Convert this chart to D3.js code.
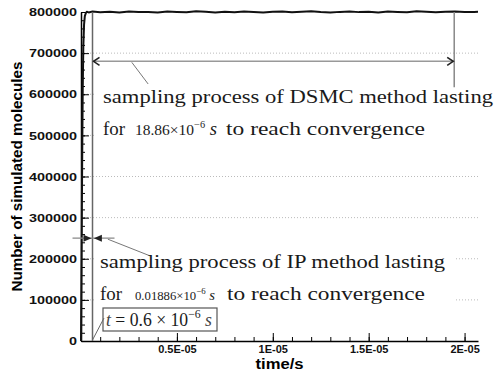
<!DOCTYPE html>
<html>
<head>
<meta charset="utf-8">
<script src="https://cdn.jsdelivr.net/npm/d3@7"></script>
<style>
body { margin: 0; background: #fff; }
svg { display: block; }
.axis text { font-family: "Liberation Sans", Arial, sans-serif; font-weight: bold; fill: #111; }
.ann { font-family: "Liberation Serif", "Times New Roman", serif; fill: #1a1a1a; }
</style>
</head>
<body>
<svg id="chart" width="495" height="371"></svg>
<script>
var c_width = 495;
var c_height = 371;

// Plot box
var c_left = 81;
var c_right = 478;
var c_top = 12;
var c_bot = 341;

// Data: time in microseconds, number of simulated molecules
var time_us = [0, 0.03, 0.06, 0.09, 0.12, 0.16, 0.2, 0.25, 0.3, 0.4, 0.6,
    1.0, 1.5, 2.0, 2.5, 3.0, 3.5, 4.0, 4.5, 5.0, 5.5, 6.0, 6.5, 7.0, 7.5, 8.0,
    8.5, 9.0, 9.5, 10.0, 10.5, 11.0, 11.5, 12.0, 12.5, 13.0, 13.5, 14.0, 14.5,
    15.0, 15.5, 16.0, 16.5, 17.0, 17.5, 18.0, 18.5, 19.0, 19.5, 20.0, 20.5, 20.7];
var molecules = [0, 200000, 430000, 610000, 715000, 770000, 790000, 797000, 800500, 799000, 801000,
    799500, 800800, 798600, 801500, 799800, 800200, 798900, 801200, 800000, 799200, 801800,
    800400, 798800, 800900, 799600, 801300, 800100, 798700, 800600, 801000, 799300, 800700,
    802000, 799900, 798500, 800300, 801400, 799700, 800800, 798900, 801100, 800000, 799400,
    801600, 800500, 799100, 800900, 801200, 799800, 800300, 800600];

// Axes
var y_ticks = [0, 100000, 200000, 300000, 400000, 500000, 600000, 700000, 800000];
var grid_values = [100000, 200000, 300000, 400000, 500000, 600000, 700000];
var x_ticks = [0.5e-5, 1e-5, 1.5e-5, 2e-5];
var x_tick_labels = ["0.5E-05", "1E-05", "1.5E-05", "2E-05"];

// Annotation values
var t_start = 0.6e-6;
var dsmc_lasting = 18.86e-6;
var ip_lasting = 0.01886e-6;
var dsmc_arrow_level = 680000;
var ip_arrow_level = 250000;

var svg = d3.select("#chart");

var x_scale = d3.scaleLinear().domain([0, 2.07e-5]).range([c_left, c_right]);
var y_scale = d3.scaleLinear().domain([0, 800000]).range([c_bot, c_top]);

// Grid lines
svg.append("g")
    .selectAll("line")
    .data(grid_values)
    .enter()
    .append("line")
    .attr("x1", c_left)
    .attr("x2", c_right)
    .attr("y1", d => y_scale(d))
    .attr("y2", d => y_scale(d))
    .attr("stroke", "#bbb")
    .attr("stroke-dasharray", "1,2");

// White backgrounds behind the annotation text
svg.append("rect").attr("x", 96).attr("y", 86).attr("width", 399).attr("height", 56).attr("fill", "#fff");
svg.append("rect").attr("x", 96).attr("y", 249).attr("width", 360).attr("height", 56).attr("fill", "#fff");

// Minor ticks
svg.append("g")
    .attr("transform", "translate(0," + c_bot + ")")
    .call(d3.axisBottom(x_scale).tickValues(x_scale.ticks(20)).tickSize(-4).tickFormat(""))
    .call(g => g.select(".domain").remove());
svg.append("g")
    .attr("transform", "translate(" + c_left + ",0)")
    .call(d3.axisLeft(y_scale).tickValues(y_scale.ticks(40)).tickSize(-4).tickFormat(""))
    .call(g => g.select(".domain").remove());

// Major axes
var x_axis = svg.append("g")
    .attr("class", "axis")
    .attr("transform", "translate(0," + c_bot + ")")
    .call(d3.axisBottom(x_scale)
        .tickValues(x_ticks)
        .tickSize(-8)
        .tickPadding(4)
        .tickSizeOuter(0)
        .tickFormat((d, i) => x_tick_labels[i]));
x_axis.selectAll("text").attr("font-size", 11);

var y_axis = svg.append("g")
    .attr("class", "axis")
    .attr("transform", "translate(" + c_left + ",0)")
    .call(d3.axisLeft(y_scale)
        .tickValues(y_ticks)
        .tickSize(-8)
        .tickPadding(4)
        .tickSizeOuter(0)
        .tickFormat(d => String(d)));
y_axis.selectAll("text")
    .attr("font-size", 11.5)
    .attr("textLength", d => String(d).length * 8)
    .attr("lengthAdjust", "spacingAndGlyphs");
svg.selectAll(".domain").attr("stroke-width", 1.5);

// Axis titles
svg.append("text")
    .attr("transform", "translate(22," + ((c_top + c_bot) / 2) + ") rotate(-90)")
    .attr("text-anchor", "middle")
    .attr("font-family", "Liberation Sans, Arial, sans-serif")
    .attr("font-weight", "bold")
    .attr("font-size", 14)
    .attr("textLength", 230)
    .attr("lengthAdjust", "spacingAndGlyphs")
    .text("Number of simulated molecules");
svg.append("text")
    .attr("x", (c_left + c_right) / 2)
    .attr("y", 369)
    .attr("text-anchor", "middle")
    .attr("font-family", "Liberation Sans, Arial, sans-serif")
    .attr("font-weight", "bold")
    .attr("font-size", 14)
    .attr("textLength", 48)
    .attr("lengthAdjust", "spacingAndGlyphs")
    .text("time/s");

// Data curve
var points = time_us.map((t, i) => ({t: t * 1e-6, v: molecules[i]}));
var line = d3.line().x(d => x_scale(d.t)).y(d => y_scale(d.v));
svg.append("path")
    .datum(points)
    .attr("d", line)
    .attr("fill", "none")
    .attr("stroke", "#111")
    .attr("stroke-width", 2)
    .attr("stroke-linejoin", "round");

// Annotation lines
var xs = x_scale(t_start);
var xe = x_scale(t_start + dsmc_lasting);
var ya = y_scale(dsmc_arrow_level);
svg.append("line")
    .attr("x1", xs).attr("x2", xs)
    .attr("y1", y_scale(0)).attr("y2", y_scale(800000))
    .attr("stroke", "#666").attr("stroke-width", 1.5);
svg.append("line")
    .attr("x1", xe).attr("x2", xe)
    .attr("y1", y_scale(800000)).attr("y2", y_scale(617000))
    .attr("stroke", "#888").attr("stroke-width", 1.5);
svg.append("line")
    .attr("x1", xs).attr("x2", xe)
    .attr("y1", ya).attr("y2", ya)
    .attr("stroke", "#999").attr("stroke-width", 1.5);
svg.append("path")
    .attr("d", "M" + (xs + 7) + "," + (ya - 4) + "L" + (xs + 1) + "," + ya + "L" + (xs + 7) + "," + (ya + 4))
    .attr("fill", "none").attr("stroke", "#222").attr("stroke-width", 1.6);
svg.append("path")
    .attr("d", "M" + (xe - 7) + "," + (ya - 4) + "L" + (xe - 1) + "," + ya + "L" + (xe - 7) + "," + (ya + 4))
    .attr("fill", "none").attr("stroke", "#222").attr("stroke-width", 1.6);
svg.append("line")
    .attr("x1", x_scale(2.65e-6)).attr("y1", ya + 1)
    .attr("x2", x_scale(3.5e-6)).attr("y2", y_scale(625000))
    .attr("stroke", "#777").attr("stroke-width", 1);

// IP arrows
var yi = y_scale(ip_arrow_level);
var xi = x_scale(t_start + ip_lasting);
svg.append("line")
    .attr("x1", xs - 20).attr("x2", xs + 22)
    .attr("y1", yi).attr("y2", yi)
    .attr("stroke", "#888").attr("stroke-width", 1.3);
svg.append("path")
    .attr("d", "M" + (xs - 1) + "," + yi + "L" + (xs - 9) + "," + (yi - 3.5) + "L" + (xs - 9) + "," + (yi + 3.5) + "Z")
    .attr("fill", "#222");
svg.append("path")
    .attr("d", "M" + (xi + 1) + "," + yi + "L" + (xi + 9) + "," + (yi - 3.5) + "L" + (xi + 9) + "," + (yi + 3.5) + "Z")
    .attr("fill", "#222");
svg.append("line")
    .attr("x1", x_scale(1.4e-6)).attr("y1", yi + 1)
    .attr("x2", x_scale(3.6e-6)).attr("y2", y_scale(207000))
    .attr("stroke", "#777").attr("stroke-width", 1);

// Text helper
function ann(x, y, str, size, opts)
{
    opts = opts || {};
    var t = svg.append("text")
        .attr("class", "ann")
        .attr("x", x)
        .attr("y", y)
        .attr("font-size", size)
        .text(str);
    if (opts.width)
        t.attr("textLength", opts.width).attr("lengthAdjust", "spacingAndGlyphs");
    if (opts.fill)
        t.attr("fill", opts.fill);
    return t;
}

/**
 * Writes "<mant>x10^-6 s" as one text with tspans.
 */
function powerText(x, y, mant, size, sup_size, s_size, width, fill)
{
    var t = svg.append("text")
        .attr("class", "ann")
        .attr("x", x)
        .attr("y", y)
        .attr("font-size", size)
        .attr("textLength", width)
        .attr("lengthAdjust", "spacingAndGlyphs");
    if (fill) t.attr("fill", fill);
    t.append("tspan").text(mant);
    t.append("tspan").attr("dy", -size * 0.45).attr("font-size", sup_size).text("\u22126");
    t.append("tspan").attr("dy", size * 0.45).attr("font-size", s_size)
        .attr("font-style", "italic").text(" s");
    return t;
}

// DSMC annotation
ann(103, 103, "sampling process of DSMC method lasting", 19, {width: 390});
ann(103, 135, "for", 19, {width: 22});
powerText(135, 135, "18.86\u00d710", 15, 10, 18, 82);
ann(226, 135, "to reach convergence", 19, {width: 199});

// IP annotation
ann(100, 268, "sampling process of IP method lasting", 19, {width: 345});
ann(100, 300, "for", 19, {width: 22});
powerText(135, 300, "0.01886\u00d710", 13, 9, 15, 80);
ann(227, 300, "to reach convergence", 19, {width: 198});

// t = 0.6 x 10^-6 s box
svg.append("rect")
    .attr("x", 103).attr("y", 308)
    .attr("width", 114).attr("height", 23)
    .attr("fill", "#fff").attr("stroke", "#555").attr("stroke-width", 1.2);
svg.append("line")
    .attr("x1", 104).attr("y1", 318)
    .attr("x2", xs).attr("y2", c_bot - 1)
    .attr("stroke", "#666").attr("stroke-width", 1);
var box_text = svg.append("text")
    .attr("class", "ann")
    .attr("x", 106)
    .attr("y", 326)
    .attr("font-size", 18)
    .attr("fill", "#555")
    .attr("textLength", 106)
    .attr("lengthAdjust", "spacingAndGlyphs");
box_text.append("tspan").attr("font-style", "italic").attr("fill", "#444").text("t");
box_text.append("tspan").text(" = 0.6 \u00d7 10");
box_text.append("tspan").attr("dy", -8).attr("font-size", 12).text("\u22126");
box_text.append("tspan").attr("dy", 8).attr("font-style", "italic").attr("fill", "#444").text("  s");
</script>
</body>
</html>
